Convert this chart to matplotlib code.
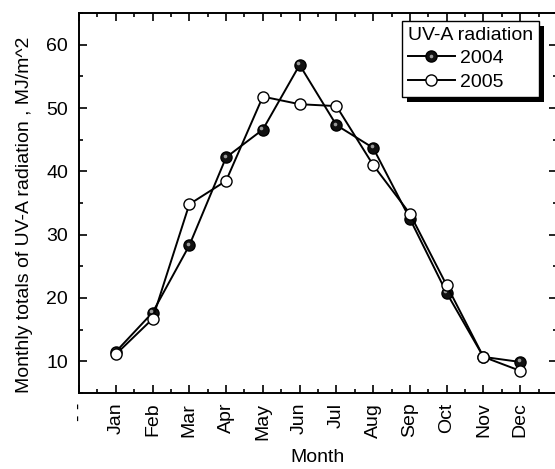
import matplotlib
matplotlib.use("Agg")
import matplotlib.pyplot as plt
from matplotlib.patches import Rectangle
from matplotlib.transforms import IdentityTransform, offset_copy
from matplotlib.ticker import MultipleLocator
from matplotlib.legend_handler import HandlerTuple

plt.rcParams['font.family'] = ['Liberation Sans', 'DejaVu Sans']

months = ["Jan", "Feb", "Mar", "Apr", "May", "Jun",
          "Jul", "Aug", "Sep", "Oct", "Nov", "Dec"]
uva_2004 = [11.5, 17.7, 28.3, 42.2, 46.6, 56.8, 47.3, 43.7, 32.5, 20.8, 10.7, 9.9]
uva_2005 = [11.1, 16.7, 34.8, 38.5, 51.8, 50.6, 50.3, 41.0, 33.3, 22.0, 10.7, 8.5]
tick_labels = ["- -"] + months

fs = 14
fig = plt.figure(figsize=(5.55, 4.69), dpi=100)
ax = fig.add_axes([79 / 555, 76 / 469, 478 / 555, 380 / 469])

x = list(range(1, len(months) + 1))

l04, = ax.plot(x, uva_2004, color='black', lw=1.4, marker='o', ms=8,
               mfc='#111111', mec='black', mew=1.0, zorder=3)
# small glint on the filled markers
glint = offset_copy(ax.transData, fig=fig, x=-1.5, y=1.5, units='dots')
hl04, = ax.plot(x, uva_2004, ls='none', marker='o', ms=2.6, mfc='#9a9a9a',
                mec='none', transform=glint, zorder=3.1)
l05, = ax.plot(x, uva_2005, color='black', lw=1.4, marker='o', ms=8,
               mfc='white', mec='black', mew=1.0, zorder=3.5)

ax.set_xlim(0, 13)
ax.set_ylim(5, 65)
ax.set_xticks(range(0, 13))
ax.set_xticklabels(tick_labels, rotation=90, fontsize=fs)
ax.xaxis.set_minor_locator(MultipleLocator(0.5))
ax.set_yticks([10, 20, 30, 40, 50, 60])
ax.yaxis.set_minor_locator(MultipleLocator(5))
ax.tick_params(axis='both', which='both', direction='in', top=True, right=True,
               labelsize=fs, width=1.2)
ax.tick_params(which='major', length=6)
ax.tick_params(which='minor', length=3)
ax.tick_params(axis='x', pad=7)
ax.tick_params(axis='y', pad=8)
for sp in ax.spines.values():
    sp.set_linewidth(1.4)

ax.set_xlabel("Month", fontsize=fs, labelpad=7)
ax.set_ylabel("Monthly totals of UV-A radiation , MJ/m^2", fontsize=fs)
ax.yaxis.set_label_coords(-0.097, 0.468)

leg = ax.legend([(l04, hl04), l05], ["2004", "2005"], title="UV-A radiation",
                handler_map={tuple: HandlerTuple(ndivide=1, pad=0)},
                loc='upper right', bbox_to_anchor=(539 / 555, 1 - 21 / 469),
                bbox_transform=fig.transFigure, fontsize=fs, title_fontsize=fs,
                frameon=True, fancybox=False, framealpha=1, edgecolor='black',
                handlelength=2.4, handletextpad=0.25, borderpad=0.3,
                labelspacing=0.3, borderaxespad=0, numpoints=1)
leg.get_frame().set_linewidth(1.0)
leg._legend_box.align = "left"
leg.set_zorder(6)

# solid drop shadow behind the legend box
fig.canvas.draw()
bb = leg.get_window_extent()
shadow = Rectangle((bb.x0 + 5, bb.y0 - 5), bb.width, bb.height,
                   transform=IdentityTransform(), facecolor='black',
                   edgecolor='none', zorder=5.9, clip_on=False)
ax.add_artist(shadow)

fig.savefig("out.png", dpi=100)
